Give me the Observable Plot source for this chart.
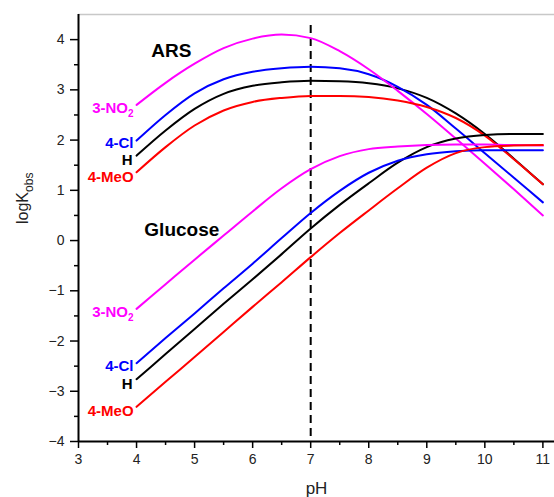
<!DOCTYPE html>
<html>
<head>
<meta charset="utf-8">
<script src="https://cdn.jsdelivr.net/npm/d3@7"></script>
<script src="https://cdn.jsdelivr.net/npm/@observablehq/plot@0.6"></script>
<style>
  html, body { margin: 0; padding: 0; background: #fff; }
  svg { display: block; }
</style>
</head>
<body>
<script>
// ---- data ----
const pH = [4, 4.5, 5, 5.5, 6, 6.5, 7, 7.5, 8, 8.5, 9, 9.5, 10, 10.5, 11];

const substituents = ["3-NO2", "4-Cl", "H", "4-MeO"];
const colors = ["#ff00ff", "#0000ff", "#000000", "#ff0000"];

// ARS (upper set)
const arsNO2 = [2.70, 3.14, 3.52, 3.83, 4.02, 4.10, 4.03, 3.77, 3.41, 2.98, 2.52, 2.03, 1.53, 1.02, 0.50];
const arsCl  = [1.99, 2.50, 2.93, 3.21, 3.36, 3.43, 3.46, 3.43, 3.31, 3.06, 2.70, 2.23, 1.74, 1.25, 0.76];
const arsH   = [1.69, 2.19, 2.62, 2.92, 3.08, 3.15, 3.18, 3.17, 3.13, 3.03, 2.84, 2.53, 2.12, 1.63, 1.12];
const arsMeO = [1.36, 1.86, 2.29, 2.59, 2.76, 2.84, 2.88, 2.88, 2.86, 2.79, 2.66, 2.44, 2.09, 1.62, 1.12];

// Glucose (lower set)
const gluNO2 = [-1.36, -0.87, -0.38, 0.10, 0.58, 1.04, 1.42, 1.68, 1.82, 1.87, 1.90, 1.91, 1.91, 1.90, 1.89];
const gluCl  = [-2.44, -1.94, -1.45, -0.95, -0.46, 0.05, 0.55, 0.99, 1.35, 1.59, 1.72, 1.78, 1.80, 1.80, 1.80];
const gluH   = [-2.76, -2.26, -1.76, -1.26, -0.77, -0.27, 0.24, 0.71, 1.14, 1.55, 1.86, 2.03, 2.10, 2.12, 2.12];
const gluMeO = [-3.31, -2.81, -2.32, -1.82, -1.32, -0.83, -0.33, 0.15, 0.60, 1.04, 1.45, 1.74, 1.86, 1.89, 1.90];

const groupNames = ["ARS", "Glucose"];
const groupAnchors = [[4.60, 3.78], [4.78, 0.21]];

const xTicks = [3, 4, 5, 6, 7, 8, 9, 10, 11];
const yTicks = [-4, -3, -2, -1, 0, 1, 2, 3, 4];
const refPH = 7;

// ---- build table ----
const series = [
  {sys: "ARS", sub: "H", v: arsH},
  {sys: "ARS", sub: "4-Cl", v: arsCl},
  {sys: "ARS", sub: "3-NO2", v: arsNO2},
  {sys: "ARS", sub: "4-MeO", v: arsMeO},
  {sys: "Glucose", sub: "H", v: gluH},
  {sys: "Glucose", sub: "4-Cl", v: gluCl},
  {sys: "Glucose", sub: "3-NO2", v: gluNO2},
  {sys: "Glucose", sub: "4-MeO", v: gluMeO}
];
const rows = [];
series.forEach(s => s.v.forEach((y, i) => rows.push({pH: pH[i], logK: y, key: s.sys + "|" + s.sub, sub: s.sub})));
const starts = rows.filter(d => d.pH === pH[0]);
const startsH = starts.filter(d => d.sub === "H");
const startsMeO = starts.filter(d => d.sub === "4-MeO");
const startsOther = starts.filter(d => d.sub !== "H" && d.sub !== "4-MeO");

const minorX = d3.range(3.5, 11.5, 1);
const minorY = d3.range(-3.5, 4.5, 1);
const font = "'Liberation Sans', Arial, Helvetica, sans-serif";
const labelStyle = {x: "pH", y: "logK", text: "sub", fill: "sub", textAnchor: "end", fontWeight: "bold", fontSize: 15};

const chart = Plot.plot({
  width: 554,
  height: 497,
  marginLeft: 78,
  marginRight: 0,
  marginTop: 14,
  marginBottom: 56,
  style: {fontFamily: font, background: "#fff", overflow: "visible"},
  x: {domain: [3, 11.2], label: null},
  y: {domain: [-4, 4.5], label: null},
  color: {domain: substituents, range: colors},
  marks: [
    // frame top (light grey)
    Plot.ruleY([4.5], {stroke: "#c8c8c8", strokeWidth: 1.5}),
    // minor ticks
    Plot.axisX({ticks: minorX, tickSize: 4, tickFormat: () => "", strokeWidth: 1.5, label: null}),
    Plot.axisY({ticks: minorY, tickSize: 4, tickFormat: () => "", strokeWidth: 1.5, label: null}),
    // major ticks
    Plot.axisX({ticks: xTicks, tickSize: 7, tickPadding: 6, fontSize: 14, strokeWidth: 1.5, color: "#222", stroke: "#000", label: null}),
    Plot.axisY({ticks: yTicks, tickSize: 8, tickPadding: 6, fontSize: 14, strokeWidth: 1.5, color: "#222", stroke: "#000", label: null}),
    // reference line at pH 7
    Plot.ruleX([refPH], {y1: 4.28, y2: -4, stroke: "#000", strokeWidth: 2, strokeDasharray: "8,5"}),
    // curves
    Plot.line(rows, {x: "pH", y: "logK", z: "key", stroke: "sub", strokeWidth: 2, curve: "monotone-x"}),
    // substituent labels at curve starts
    Plot.text(startsOther, {...labelStyle, dx: -3, dy: 3}),
    Plot.text(startsH, {...labelStyle, dx: -4, dy: 4.5}),
    Plot.text(startsMeO, {...labelStyle, dx: -3, dy: 4.5}),
    // group labels
    Plot.text(groupNames, {x: (d, i) => groupAnchors[i][0], y: (d, i) => groupAnchors[i][1], text: d => d,
      fontWeight: "bold", fontSize: 19, fill: "#000"}),
    // axis lines
    Plot.ruleY([-4], {stroke: "#000", strokeWidth: 2}),
    Plot.ruleX([3], {stroke: "#000", strokeWidth: 2}),
    // axis titles
    Plot.text(["pH"], {frameAnchor: "bottom", text: d => d, dy: 52, lineAnchor: "bottom", fontSize: 17, fill: "#222"}),
    Plot.text(["logKobs"], {frameAnchor: "left", text: d => d, rotate: -90, dx: -51, dy: -4, lineAnchor: "bottom", fontSize: 16, fill: "#222"})
  ]
});

// subscripts as real tspans
const NS = "http://www.w3.org/2000/svg";
chart.querySelectorAll("text").forEach(t => {
  if (t.textContent === "3-NO2") {
    t.textContent = "3-NO";
    const s = document.createElementNS(NS, "tspan");
    s.setAttribute("dy", "4");
    s.setAttribute("font-size", "10");
    s.textContent = "2";
    t.appendChild(s);
  } else if (t.textContent === "logKobs") {
    t.textContent = "logK";
    const s = document.createElementNS(NS, "tspan");
    s.setAttribute("dy", "5");
    s.setAttribute("font-size", "12");
    s.textContent = "obs";
    t.appendChild(s);
  }
});

document.body.appendChild(chart);
</script>
</body>
</html>
